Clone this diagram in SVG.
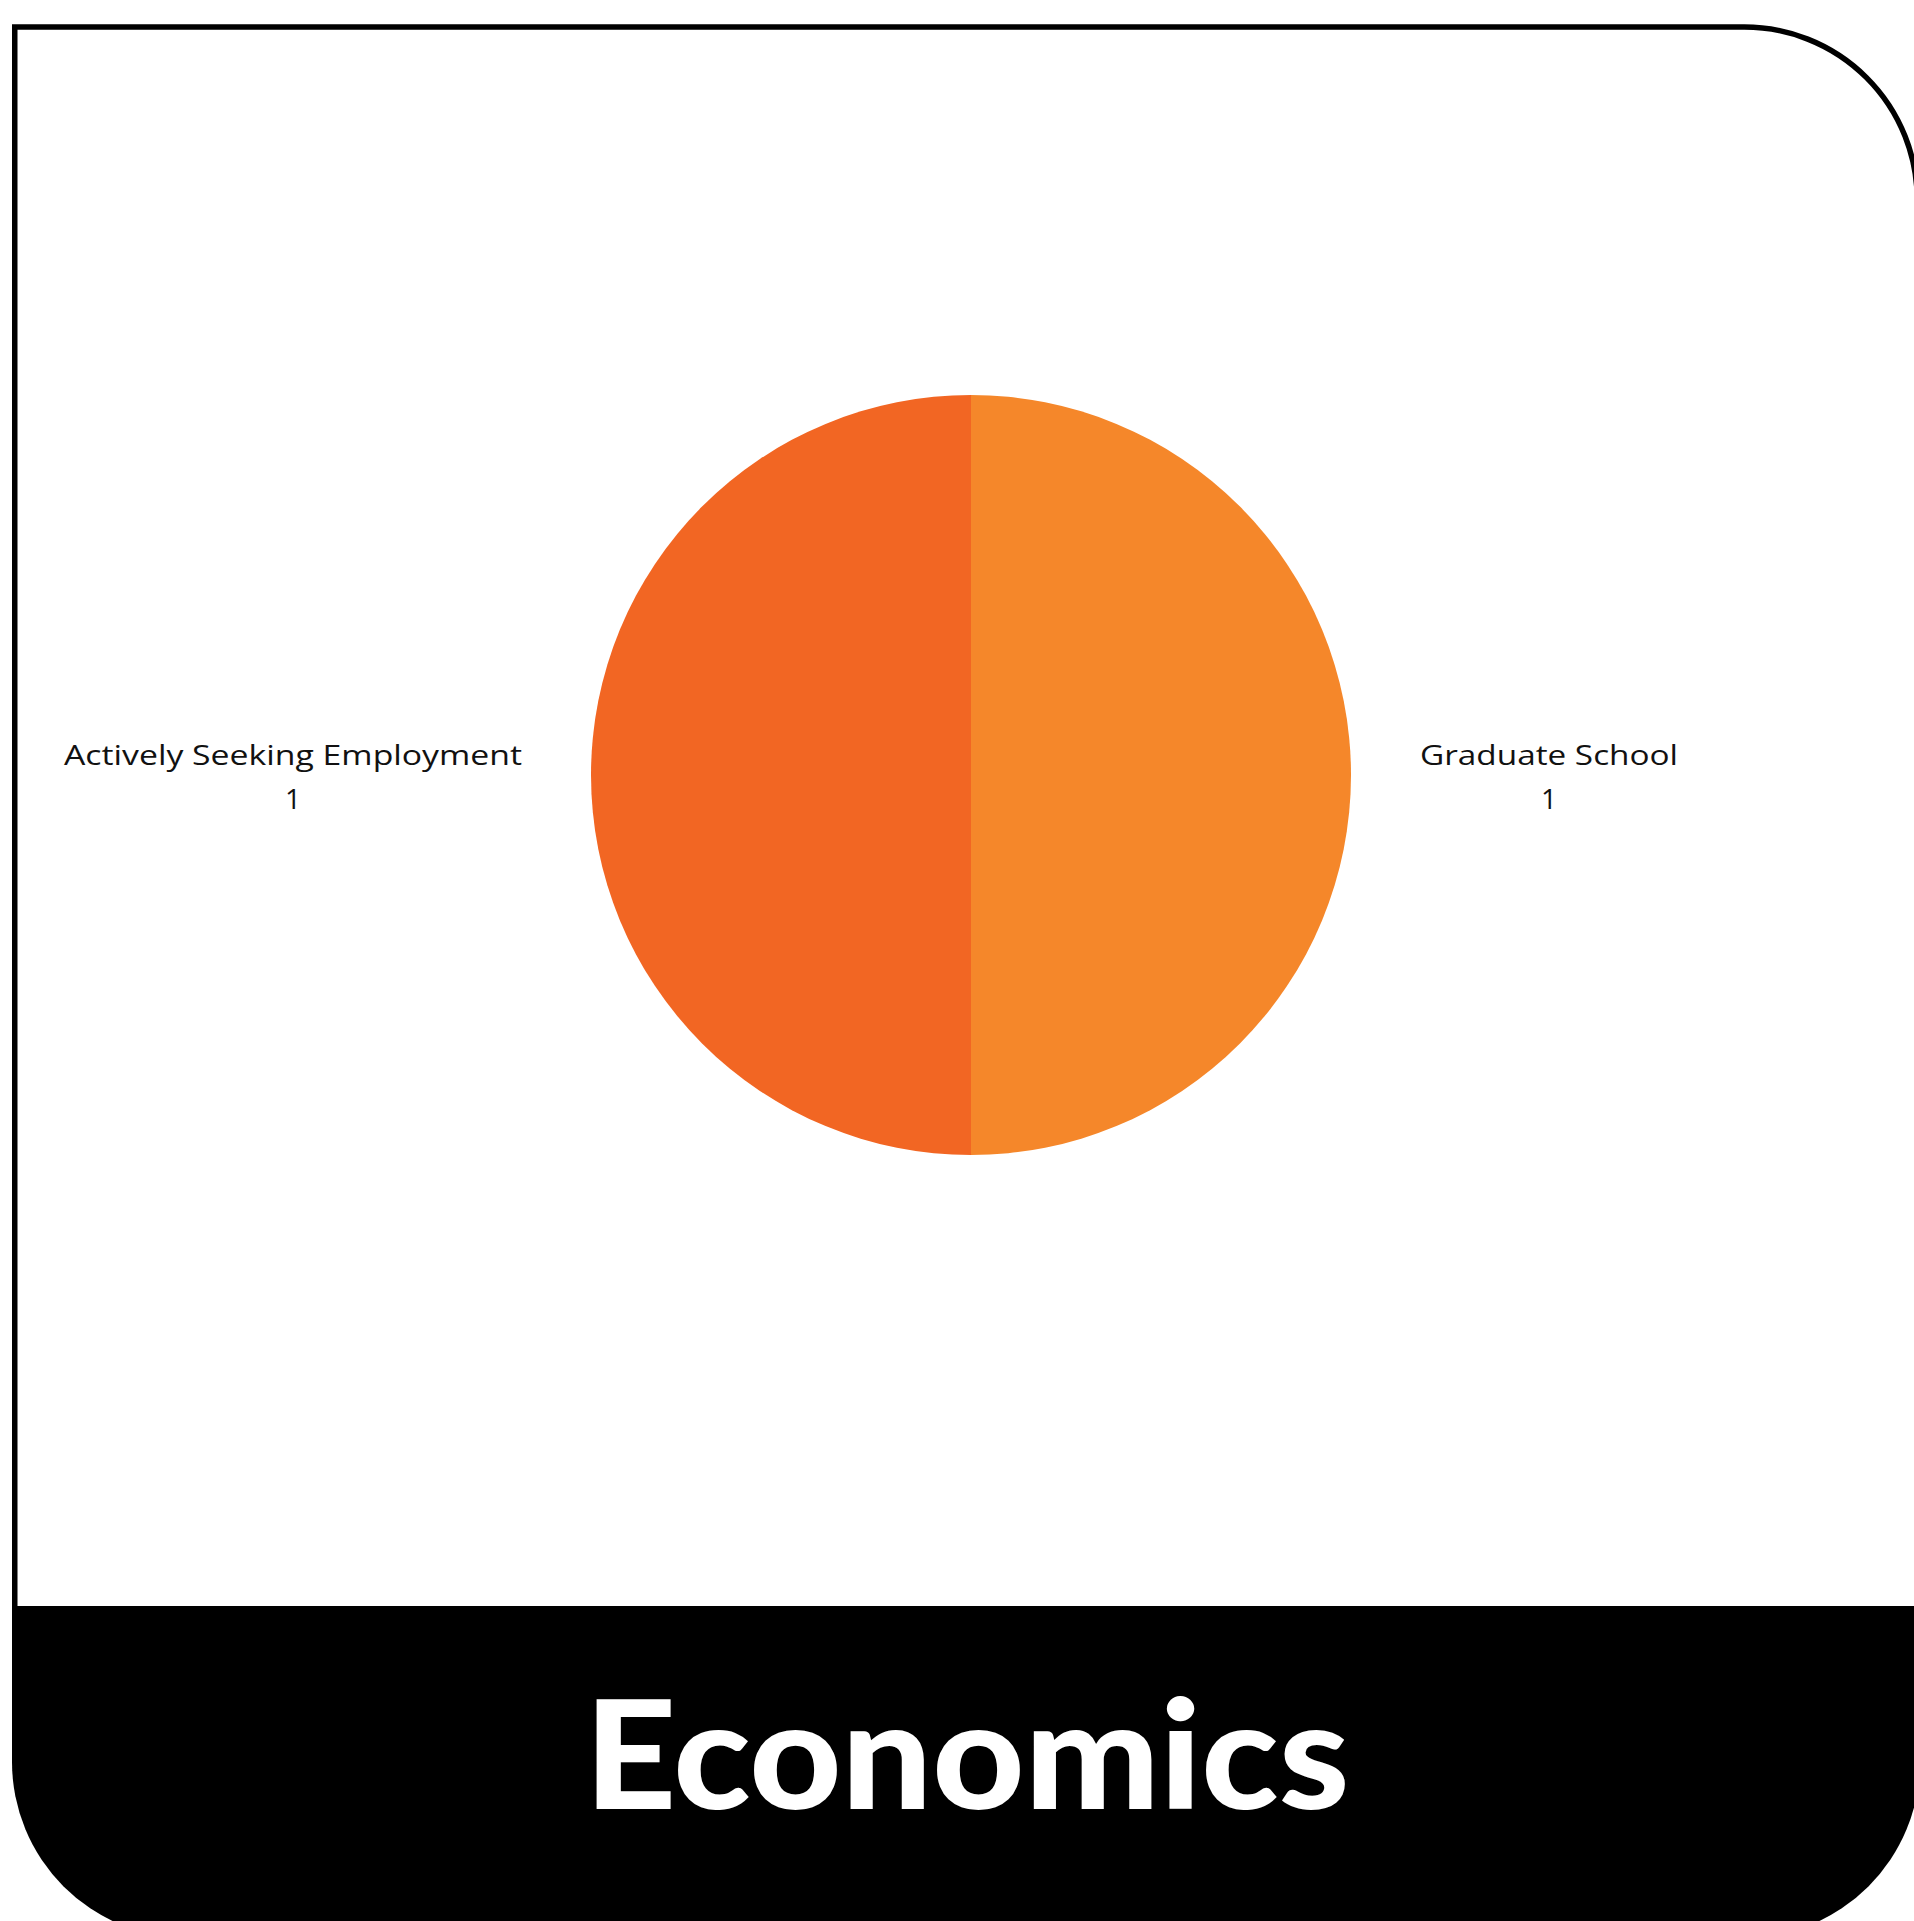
<svg xmlns="http://www.w3.org/2000/svg" width="1914" height="1921" viewBox="0 0 1914 1921">
<style>
.lbl{font-family:"Open Sans","Liberation Sans",sans-serif;font-size:28px;fill:#111;text-anchor:middle}
.title{font-family:Lato,"Liberation Sans",sans-serif;font-weight:900;font-size:150px;fill:#fff;text-anchor:middle}
</style>
<rect x="0" y="0" width="1914" height="1921" fill="#fff"/>
<g id="frame">
<path d="M14.75 1700 V27 H1744 A173 173 0 0 1 1917.25 200 V1700" fill="#fff" stroke="#000" stroke-width="5.5"/>
<path d="M12 1606 H1920 V1762 A176 176 0 0 1 1744 1938 H188 A176 176 0 0 1 12 1762 Z" fill="#000"/>
</g>
<g id="pie">
<g id="slice-seeking"><path d="M971 775 V395 A380 380 0 0 0 971 1155 Z" fill="#F26623"/></g>
<g id="slice-grad"><path d="M971 775 V395 A380 380 0 0 1 971 1155 Z" fill="#F5872A"/></g>
</g>
<g id="connectors"></g>
<g id="label-seeking">
<text class="lbl" x="293" y="765" textLength="458" lengthAdjust="spacingAndGlyphs">Actively Seeking Employment</text>
<text class="lbl" x="293" y="809">1</text>
</g>
<g id="label-grad">
<text class="lbl" x="1549" y="765" textLength="258" lengthAdjust="spacingAndGlyphs">Graduate School</text>
<text class="lbl" x="1549" y="809">1</text>
</g>
<g id="title">
<text class="title" x="967" y="1809" textLength="765" lengthAdjust="spacingAndGlyphs">Economics</text>
</g>
</svg>
